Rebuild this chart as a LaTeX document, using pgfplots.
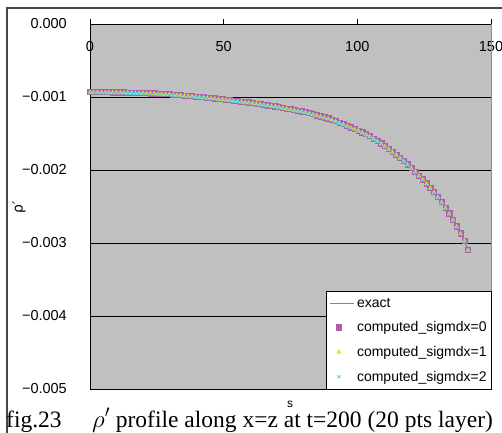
\documentclass[border=0pt]{standalone}
\usepackage{pgfplots}
\pgfplotsset{compat=1.18}
\usepackage{pgfplotstable}
\usepackage{fontspec}
\setmainfont{Liberation Serif}
\setsansfont{Liberation Sans}
\newfontfamily\dejavu{DejaVu Sans}
\definecolor{plotgray}{RGB}{192,192,192}
\definecolor{framegray}{RGB}{70,70,70}
\definecolor{edgegray}{RGB}{140,140,140}
\definecolor{exactc}{RGB}{130,130,175}
\definecolor{purplec}{RGB}{175,95,175}
\definecolor{yellowc}{RGB}{230,230,60}
\definecolor{cyanc}{RGB}{90,205,215}

\pgfplotstableread{
s exact c1 c2
0.00 -0.000930 -0.000938 -0.000942
1.41 -0.000930 -0.000938 -0.000942
2.83 -0.000931 -0.000939 -0.000943
4.24 -0.000931 -0.000939 -0.000943
5.66 -0.000932 -0.000940 -0.000944
7.07 -0.000932 -0.000940 -0.000944
8.49 -0.000933 -0.000941 -0.000945
9.90 -0.000933 -0.000941 -0.000945
11.31 -0.000934 -0.000942 -0.000946
12.73 -0.000935 -0.000943 -0.000947
14.14 -0.000937 -0.000945 -0.000949
15.56 -0.000938 -0.000946 -0.000950
16.97 -0.000939 -0.000947 -0.000951
18.38 -0.000941 -0.000949 -0.000953
19.80 -0.000942 -0.000950 -0.000954
21.21 -0.000944 -0.000952 -0.000956
22.63 -0.000947 -0.000955 -0.000959
24.04 -0.000949 -0.000957 -0.000961
25.46 -0.000952 -0.000960 -0.000964
26.87 -0.000954 -0.000962 -0.000966
28.28 -0.000957 -0.000965 -0.000969
29.70 -0.000959 -0.000967 -0.000971
31.11 -0.000964 -0.000972 -0.000976
32.53 -0.000968 -0.000976 -0.000980
33.94 -0.000973 -0.000981 -0.000985
35.36 -0.000977 -0.000985 -0.000989
36.77 -0.000982 -0.000990 -0.000994
38.18 -0.000986 -0.000994 -0.000998
39.60 -0.000991 -0.000999 -0.001003
41.01 -0.000996 -0.001004 -0.001008
42.43 -0.001001 -0.001009 -0.001013
43.84 -0.001007 -0.001015 -0.001019
45.25 -0.001012 -0.001020 -0.001024
46.67 -0.001017 -0.001025 -0.001029
48.08 -0.001023 -0.001031 -0.001035
49.50 -0.001028 -0.001036 -0.001040
50.91 -0.001034 -0.001042 -0.001046
52.33 -0.001040 -0.001048 -0.001052
53.74 -0.001047 -0.001055 -0.001059
55.15 -0.001053 -0.001061 -0.001065
56.57 -0.001060 -0.001068 -0.001072
57.98 -0.001066 -0.001074 -0.001078
59.40 -0.001072 -0.001080 -0.001084
60.81 -0.001079 -0.001087 -0.001091
62.23 -0.001087 -0.001095 -0.001099
63.64 -0.001095 -0.001103 -0.001107
65.05 -0.001103 -0.001111 -0.001115
66.47 -0.001111 -0.001119 -0.001123
67.88 -0.001118 -0.001126 -0.001130
69.30 -0.001126 -0.001134 -0.001138
70.71 -0.001135 -0.001143 -0.001147
72.12 -0.001145 -0.001153 -0.001157
73.54 -0.001155 -0.001163 -0.001167
74.95 -0.001165 -0.001173 -0.001177
76.37 -0.001175 -0.001183 -0.001187
77.78 -0.001184 -0.001192 -0.001196
79.20 -0.001194 -0.001202 -0.001206
80.61 -0.001206 -0.001214 -0.001218
82.02 -0.001220 -0.001228 -0.001232
83.44 -0.001234 -0.001242 -0.001246
84.85 -0.001249 -0.001257 -0.001261
86.27 -0.001263 -0.001271 -0.001275
87.68 -0.001277 -0.001285 -0.001289
89.10 -0.001291 -0.001299 -0.001303
90.51 -0.001308 -0.001316 -0.001320
91.92 -0.001329 -0.001337 -0.001341
93.34 -0.001350 -0.001358 -0.001362
94.75 -0.001371 -0.001379 -0.001383
96.17 -0.001393 -0.001401 -0.001405
97.58 -0.001414 -0.001422 -0.001426
98.99 -0.001435 -0.001443 -0.001447
100.41 -0.001457 -0.001465 -0.001469
101.82 -0.001483 -0.001491 -0.001495
103.24 -0.001508 -0.001516 -0.001520
104.65 -0.001534 -0.001542 -0.001546
106.07 -0.001566 -0.001574 -0.001578
107.48 -0.001600 -0.001608 -0.001612
108.89 -0.001633 -0.001641 -0.001645
110.31 -0.001669 -0.001677 -0.001681
111.72 -0.001708 -0.001716 -0.001720
113.14 -0.001748 -0.001756 -0.001760
114.55 -0.001787 -0.001795 -0.001799
115.97 -0.001831 -0.001839 -0.001843
117.38 -0.001876 -0.001884 -0.001888
118.79 -0.001921 -0.001929 -0.001933
120.21 -0.001968 -0.001976 -0.001980
121.62 -0.002020 -0.002028 -0.002032
123.04 -0.002073 -0.002081 -0.002085
124.45 -0.002125 -0.002133 -0.002137
125.87 -0.002182 -0.002190 -0.002194
127.28 -0.002240 -0.002248 -0.002252
128.69 -0.002302 -0.002310 -0.002314
130.11 -0.002368 -0.002376 -0.002380
131.52 -0.002438 -0.002446 -0.002450
132.94 -0.002513 -0.002521 -0.002525
134.35 -0.002593 -0.002601 -0.002605
135.76 -0.002678 -0.002686 -0.002690
137.18 -0.002770 -0.002778 -0.002782
138.59 -0.002865 -0.002873 -0.002877
140.01 -0.002965 -0.002973 -0.002977
141.42 -0.003090 -0.003098 -0.003102
}\data

\begin{document}
\begin{tikzpicture}[x=1pt,y=1pt]
\useasboundingbox (0,0) rectangle (502,432);
\fill[white] (0,0) rectangle (502,432);
\draw[line width=1.3pt, color=framegray] (7,-10) -- (7,424) -- (512,424);
\begin{axis}[
  at={(90pt,43pt)}, anchor=south west,
  scale only axis, width=401pt, height=365pt,
  xmin=0, xmax=150, ymin=-0.005, ymax=0,
  clip=false,
  axis background/.style={fill=plotgray},
  axis line style={draw=none},
  xtick={0,50,100,150},
  xticklabels={0,50,100,150},
  xtick pos=right, xticklabel pos=right,
  tick align=outside,
  major tick length=5pt,
  xtick style={black, line width=0.8pt},
  xticklabel style={anchor=north, inner sep=0pt, yshift=-22pt, font=\fontsize{14.5}{14.5}\selectfont\sffamily},
  ytick={-0.005,-0.004,-0.003,-0.002,-0.001,0},
  yticklabels={−0.005,−0.004,−0.003,−0.002,−0.001,0.000},
  ytick pos=left,
  ytick style={draw=none},
  yticklabel style={anchor=east, inner sep=0pt, xshift=-18pt, font=\fontsize{14.5}{14.5}\selectfont\sffamily},
  scaled y ticks=false,
  ymajorgrids,
  major grid style={black, line width=0.9pt},
  legend cell align=left,
  legend style={at={(rel axis cs:1,0)}, anchor=south east, xshift=1pt, yshift=-1pt,
    draw=black, line width=0.8pt, fill=white,
    font=\fontsize{14}{14}\selectfont\sffamily,
    inner xsep=3pt, inner ysep=5pt, row sep=9pt,
    /tikz/every even column/.append style={column sep=4pt}},
]
\draw[black, line width=1pt] (rel axis cs:0,0) -- (rel axis cs:0,1) -- (rel axis cs:1,1);
\draw[edgegray, line width=1pt] (rel axis cs:1,1) -- (rel axis cs:1,0);
\addplot[exactc, line width=1.3pt, no marks,
  legend image code/.code={\draw[exactc, line width=1.3pt] (0pt,0pt) -- (24pt,0pt);}]
  table[x=s, y=exact] {\data};
\addlegendentry{exact}
\addplot[only marks, mark=square*, mark size=2.6pt, draw=purplec, fill=purplec]
  table[x=s, y=exact] {\data};
\addlegendentry{computed\_sigmdx=0}
\addplot[only marks, mark=triangle*, mark size=2.3pt, draw=yellowc, fill=yellowc]
  table[x=s, y=c1] {\data};
\addlegendentry{computed\_sigmdx=1}
\addplot[only marks, mark=x, mark size=2pt, draw=cyanc, line width=0.8pt]
  table[x=s, y=c2] {\data};
\addlegendentry{computed\_sigmdx=2}
\end{axis}
\node[rotate=90, font=\fontsize{14}{14}\selectfont\dejavu] at (19,225) {ρ′};
\node[font=\fontsize{12}{12}\selectfont\sffamily] at (290,28) {s};
\node[anchor=base west, inner sep=0pt, font=\fontsize{23.5}{23.5}\selectfont] at (6,5) {fig.23\hspace{1.3em}$\rho'$ profile along x=z at t=200 (20 pts layer)};
\end{tikzpicture}
\end{document}
